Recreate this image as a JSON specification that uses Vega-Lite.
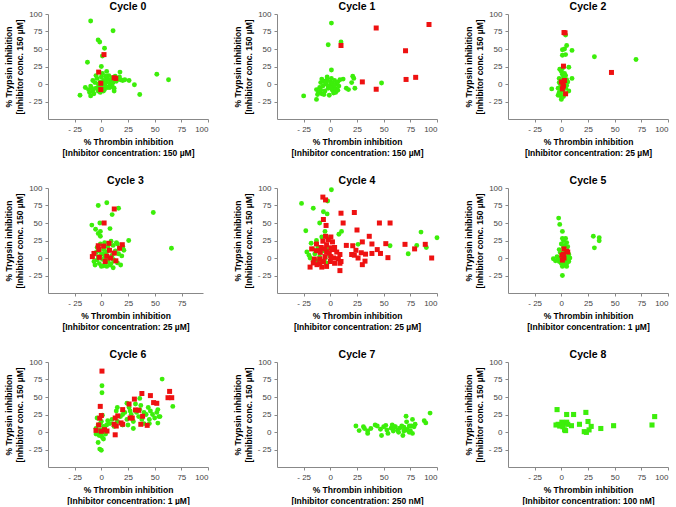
{
"$schema": "https://vega.github.io/schema/vega-lite/v6.json",
"padding": {"left": 4, "top": 1, "right": 0, "bottom": 0},
"background": "white",
"config": {
  "view": {"stroke": null},
  "title": {"font": "Liberation Sans", "fontSize": 10.5, "fontWeight": "bold", "color": "#000", "offset": -2},
  "axis": {"grid": false, "labelFont": "Liberation Sans", "labelFontSize": 8, "labelColor": "#444", "titleFont": "Liberation Sans", "titleFontSize": 8.5, "titleFontWeight": "bold", "titleColor": "#000", "domainColor": "#888", "tickColor": "#888", "tickSize": 3, "labelPadding": 3, "titleLineHeight": 11},
  "point": {"filled": true, "opacity": 1}
},
"spacing": {"row": 18, "column": 24},
"columns": 3,
"datasets": {
"c0": [
{"x":-10,"y":90,"t":"g"},{"x":11,"y":76,"t":"g"},{"x":-3,"y":63,"t":"g"},{"x":-1.5,"y":60,"t":"g"},{"x":3,"y":51,"t":"g"},{"x":-13,"y":31,"t":"g"},{"x":1,"y":40,"t":"g"},{"x":0,"y":25,"t":"g"},{"x":5,"y":18,"t":"g"},{"x":17.5,"y":17,"t":"g"},{"x":52,"y":14,"t":"g"},{"x":63,"y":6,"t":"g"},{"x":31,"y":-1,"t":"g"},{"x":36,"y":-15,"t":"g"},{"x":-20,"y":-16,"t":"g"},{"x":-10,"y":-17,"t":"g"},
{"x":-15,"y":-5,"t":"g"},{"x":-12,"y":-8,"t":"g"},{"x":-10,"y":-3,"t":"g"},{"x":-8,"y":5,"t":"g"},{"x":-8,"y":-10,"t":"g"},{"x":-6,"y":2,"t":"g"},{"x":-5,"y":-6,"t":"g"},{"x":-4,"y":8,"t":"g"},{"x":-3,"y":0,"t":"g"},{"x":-2,"y":-4,"t":"g"},{"x":-1,"y":3,"t":"g"},{"x":0,"y":10,"t":"g"},{"x":0,"y":-2,"t":"g"},{"x":1,"y":-6,"t":"g"},{"x":2,"y":5,"t":"g"},{"x":2,"y":-10,"t":"g"},{"x":3,"y":1,"t":"g"},{"x":4,"y":-3,"t":"g"},{"x":5,"y":8,"t":"g"},{"x":5,"y":3,"t":"g"},{"x":6,"y":-5,"t":"g"},{"x":7,"y":12,"t":"g"},{"x":8,"y":0,"t":"g"},{"x":9,"y":5,"t":"g"},{"x":10,"y":-2,"t":"g"},{"x":10,"y":9,"t":"g"},{"x":11,"y":2,"t":"g"},{"x":12,"y":-6,"t":"g"},{"x":13,"y":11,"t":"g"},{"x":14,"y":4,"t":"g"},{"x":15,"y":7,"t":"g"},{"x":17,"y":10,"t":"g"},{"x":18,"y":6,"t":"g"},{"x":20,"y":5,"t":"g"},{"x":22,"y":6,"t":"g"},{"x":26,"y":5,"t":"g"},{"x":-11,"y":-12,"t":"g"},{"x":-7,"y":-14,"t":"g"},{"x":-3,"y":-10,"t":"g"},{"x":3,"y":-8,"t":"g"},{"x":8,"y":-5,"t":"g"},{"x":-5,"y":12,"t":"g"},{"x":1,"y":15,"t":"g"},{"x":-9,"y":-6,"t":"g"},{"x":4,"y":11,"t":"g"},{"x":12,"y":-10,"t":"g"},{"x":6,"y":7,"t":"g"},{"x":-1,"y":-12,"t":"g"},
{"x":2.5,"y":42,"t":"r"},{"x":-2.5,"y":17,"t":"r"},{"x":-0.5,"y":1,"t":"r"},{"x":-0.5,"y":-8,"t":"r"},{"x":12,"y":9,"t":"r"},{"x":13.5,"y":8,"t":"r"}
],
"c1": [
{"x":1,"y":87,"t":"g"},{"x":-2,"y":56,"t":"g"},{"x":10,"y":60,"t":"g"},{"x":1,"y":20,"t":"g"},{"x":48,"y":1.5,"t":"g"},{"x":-25,"y":-17,"t":"g"},{"x":-13,"y":-22,"t":"g"},{"x":12,"y":7,"t":"g"},{"x":20,"y":2,"t":"g"},{"x":21,"y":11,"t":"g"},{"x":22,"y":8,"t":"g"},{"x":23,"y":-6,"t":"g"},{"x":15,"y":-6,"t":"g"},{"x":17,"y":-8,"t":"g"},
{"x":-13,"y":-8,"t":"g"},{"x":-11,"y":-12,"t":"g"},{"x":-10,"y":-5,"t":"g"},{"x":-9,"y":2,"t":"g"},{"x":-8,"y":-14,"t":"g"},{"x":-7,"y":-3,"t":"g"},{"x":-6,"y":4,"t":"g"},{"x":-5,"y":-10,"t":"g"},{"x":-4,"y":0,"t":"g"},{"x":-3,"y":6,"t":"g"},{"x":-2,"y":-6,"t":"g"},{"x":-1,"y":-16,"t":"g"},{"x":0,"y":3,"t":"g"},{"x":0,"y":-2,"t":"g"},{"x":1,"y":8,"t":"g"},{"x":2,"y":-9,"t":"g"},{"x":2,"y":1,"t":"g"},{"x":3,"y":-4,"t":"g"},{"x":4,"y":5,"t":"g"},{"x":5,"y":-7,"t":"g"},{"x":6,"y":0,"t":"g"},{"x":7,"y":3,"t":"g"},{"x":8,"y":-3,"t":"g"},{"x":9,"y":6,"t":"g"},{"x":-12,"y":-15,"t":"g"},{"x":-6,"y":-15,"t":"g"},{"x":-3,"y":10,"t":"g"},{"x":3,"y":-13,"t":"g"},{"x":-9,"y":-9,"t":"g"},{"x":5,"y":-12,"t":"g"},{"x":-2,"y":-3,"t":"g"},{"x":1,"y":-6,"t":"g"},{"x":-5,"y":3,"t":"g"},{"x":-8,"y":7,"t":"g"},{"x":4,"y":-2,"t":"g"},{"x":7,"y":-9,"t":"g"},
{"x":10,"y":55,"t":"r"},{"x":43,"y":80,"t":"r"},{"x":92.5,"y":85,"t":"r"},{"x":70.5,"y":47.5,"t":"r"},{"x":71,"y":6.5,"t":"r"},{"x":80,"y":9.5,"t":"r"},{"x":30,"y":3,"t":"r"},{"x":43,"y":-7.5,"t":"r"}
],
"c2": [
{"x":4,"y":70,"t":"g"},{"x":5,"y":55,"t":"g"},{"x":3,"y":50,"t":"g"},{"x":1,"y":49,"t":"g"},{"x":10,"y":48,"t":"g"},{"x":1,"y":41,"t":"g"},{"x":4,"y":42,"t":"g"},{"x":31,"y":39,"t":"g"},{"x":70,"y":35,"t":"g"},{"x":7,"y":24,"t":"g"},{"x":-1.5,"y":21,"t":"g"},{"x":10,"y":8,"t":"g"},{"x":-9,"y":-7,"t":"g"},{"x":0,"y":-22,"t":"g"},{"x":-3,"y":-16,"t":"g"},
{"x":0,"y":18,"t":"g"},{"x":1,"y":14,"t":"g"},{"x":2,"y":10,"t":"g"},{"x":-2,"y":8,"t":"g"},{"x":0,"y":5,"t":"g"},{"x":3,"y":2,"t":"g"},{"x":-1,"y":0,"t":"g"},{"x":2,"y":-3,"t":"g"},{"x":4,"y":-6,"t":"g"},{"x":1,"y":-9,"t":"g"},{"x":-2,"y":-12,"t":"g"},{"x":3,"y":-14,"t":"g"},{"x":0,"y":-18,"t":"g"},{"x":5,"y":-2,"t":"g"},{"x":6,"y":3,"t":"g"},{"x":7,"y":-10,"t":"g"},{"x":-3,"y":-6,"t":"g"},{"x":1,"y":22,"t":"g"},{"x":4,"y":12,"t":"g"},{"x":-1,"y":-14,"t":"g"},{"x":2,"y":-18,"t":"g"},{"x":5,"y":6,"t":"g"},{"x":0,"y":-5,"t":"g"},{"x":-2,"y":2,"t":"g"},{"x":3,"y":15,"t":"g"},
{"x":2.5,"y":73.5,"t":"r"},{"x":3.5,"y":73,"t":"r"},{"x":2,"y":25.5,"t":"r"},{"x":0,"y":3,"t":"r"},{"x":3,"y":5,"t":"r"},{"x":1,"y":-7,"t":"r"},{"x":1.5,"y":-1,"t":"r"},{"x":4,"y":-14,"t":"r"},{"x":47,"y":16.5,"t":"r"},{"x":2,"y":-3,"t":"r"}
],
"c3": [
{"x":-3,"y":75,"t":"g"},{"x":5,"y":79,"t":"g"},{"x":16,"y":71,"t":"g"},{"x":10,"y":62,"t":"g"},{"x":48.5,"y":65,"t":"g"},{"x":-9,"y":47,"t":"g"},{"x":-5.5,"y":41,"t":"g"},{"x":-1.5,"y":50,"t":"g"},{"x":-1,"y":38,"t":"g"},{"x":-3,"y":35,"t":"g"},{"x":-1,"y":31,"t":"g"},{"x":8,"y":42,"t":"g"},{"x":25.5,"y":25,"t":"g"},{"x":65.5,"y":14,"t":"g"},{"x":2,"y":-11,"t":"g"},{"x":11,"y":-14,"t":"g"},{"x":18,"y":-10,"t":"g"},{"x":21,"y":11,"t":"g"},
{"x":-7,"y":-5,"t":"g"},{"x":-5,"y":8,"t":"g"},{"x":-4,"y":15,"t":"g"},{"x":-3,"y":2,"t":"g"},{"x":-2,"y":-8,"t":"g"},{"x":-1,"y":20,"t":"g"},{"x":0,"y":5,"t":"g"},{"x":1,"y":-2,"t":"g"},{"x":2,"y":12,"t":"g"},{"x":3,"y":22,"t":"g"},{"x":4,"y":-6,"t":"g"},{"x":5,"y":9,"t":"g"},{"x":6,"y":16,"t":"g"},{"x":7,"y":0,"t":"g"},{"x":8,"y":-10,"t":"g"},{"x":9,"y":24,"t":"g"},{"x":10,"y":4,"t":"g"},{"x":11,"y":18,"t":"g"},{"x":12,"y":-4,"t":"g"},{"x":13,"y":10,"t":"g"},{"x":14,"y":22,"t":"g"},{"x":15,"y":-7,"t":"g"},{"x":16,"y":6,"t":"g"},{"x":17,"y":14,"t":"g"},{"x":19,"y":3,"t":"g"},{"x":-6,"y":-10,"t":"g"},{"x":0,"y":-12,"t":"g"},{"x":5,"y":-12,"t":"g"},{"x":9,"y":-8,"t":"g"},{"x":3,"y":0,"t":"g"},{"x":-2,"y":10,"t":"g"},{"x":7,"y":20,"t":"g"},{"x":11,"y":-2,"t":"g"},{"x":15,"y":20,"t":"g"},{"x":20,"y":16,"t":"g"},{"x":-4,"y":-3,"t":"g"},{"x":2,"y":6,"t":"g"},{"x":6,"y":-4,"t":"g"},
{"x":12,"y":70,"t":"r"},{"x":2.5,"y":50,"t":"r"},{"x":19.5,"y":19,"t":"r"},{"x":17,"y":14,"t":"r"},{"x":12,"y":7,"t":"r"},{"x":7,"y":21,"t":"r"},{"x":-3,"y":17.5,"t":"r"},{"x":2,"y":17,"t":"r"},{"x":-2.5,"y":12,"t":"r"},{"x":7.5,"y":11,"t":"r"},{"x":-7,"y":6.5,"t":"r"},{"x":-8.5,"y":2,"t":"r"},{"x":-2,"y":1,"t":"r"},{"x":5,"y":2.5,"t":"r"},{"x":8.5,"y":0,"t":"r"},{"x":3.5,"y":-5,"t":"r"},{"x":13.5,"y":-4,"t":"r"}
],
"c4": [
{"x":1,"y":97.6,"t":"g"},{"x":-27,"y":78,"t":"g"},{"x":-2.5,"y":81.5,"t":"g"},{"x":-16,"y":71,"t":"g"},{"x":-6.5,"y":66,"t":"g"},{"x":-3,"y":63,"t":"g"},{"x":-10,"y":50,"t":"g"},{"x":-5,"y":38,"t":"g"},{"x":8,"y":34,"t":"g"},{"x":10.5,"y":38,"t":"g"},{"x":-23,"y":39,"t":"g"},{"x":85,"y":37,"t":"g"},{"x":100,"y":29,"t":"g"},{"x":81,"y":18,"t":"g"},{"x":90,"y":15,"t":"g"},{"x":73,"y":6,"t":"g"},{"x":56,"y":17.5,"t":"g"},{"x":26,"y":19.5,"t":"g"},{"x":-22,"y":8.5,"t":"g"},{"x":-20,"y":4,"t":"g"},
{"x":-18,"y":21,"t":"g"},{"x":-13,"y":25,"t":"g"},{"x":-8,"y":30,"t":"g"},{"x":-3.5,"y":30,"t":"g"},{"x":-16.5,"y":13,"t":"g"},{"x":-11.5,"y":15,"t":"g"},{"x":-7,"y":10,"t":"g"},{"x":-2,"y":12.5,"t":"g"},{"x":-14.5,"y":6,"t":"g"},{"x":-10,"y":1.5,"t":"g"},{"x":-5,"y":-1,"t":"g"},{"x":-0.5,"y":3,"t":"g"},{"x":-19,"y":0,"t":"g"},{"x":-13,"y":-4,"t":"g"},{"x":-7,"y":-5,"t":"g"},{"x":-3.5,"y":-7.5,"t":"g"},{"x":-16,"y":-5,"t":"g"},
{"x":-7,"y":87,"t":"r"},{"x":-4.5,"y":83,"t":"r"},{"x":10,"y":64,"t":"r"},{"x":22.5,"y":65,"t":"r"},{"x":12,"y":50,"t":"r"},{"x":46,"y":50,"t":"r"},{"x":56,"y":50,"t":"r"},{"x":25,"y":40,"t":"r"},{"x":36.5,"y":31,"t":"r"},{"x":-6.5,"y":55,"t":"r"},{"x":-4,"y":46.5,"t":"r"},{"x":0.5,"y":30,"t":"r"},{"x":15,"y":18,"t":"r"},{"x":21,"y":17.5,"t":"r"},{"x":30,"y":23,"t":"r"},{"x":39,"y":20,"t":"r"},{"x":52,"y":20.5,"t":"r"},{"x":70,"y":19.5,"t":"r"},{"x":79,"y":13,"t":"r"},{"x":89,"y":19.5,"t":"r"},{"x":95,"y":0,"t":"r"},{"x":54,"y":0.5,"t":"r"},{"x":47,"y":6.5,"t":"r"},{"x":44,"y":12,"t":"r"},{"x":39,"y":6.5,"t":"r"},{"x":33,"y":5.5,"t":"r"},{"x":32.5,"y":-4.5,"t":"r"},{"x":30,"y":-9.5,"t":"r"},{"x":29,"y":7.5,"t":"r"},{"x":24,"y":11,"t":"r"},{"x":22.5,"y":4,"t":"r"},{"x":26,"y":0,"t":"r"},{"x":20,"y":5,"t":"r"},{"x":9,"y":-18,"t":"r"},{"x":10,"y":-5,"t":"r"},{"x":3,"y":0,"t":"r"},{"x":6,"y":8.5,"t":"r"},{"x":9,"y":5,"t":"r"},{"x":0.5,"y":14.5,"t":"r"},{"x":-3.5,"y":19,"t":"r"},{"x":-7,"y":24,"t":"r"},{"x":-13,"y":20,"t":"r"},{"x":-17.5,"y":13,"t":"r"},{"x":-13,"y":10.5,"t":"r"},{"x":-8.5,"y":15,"t":"r"},{"x":2,"y":23,"t":"r"},{"x":4,"y":15,"t":"r"},{"x":7.5,"y":-1,"t":"r"},{"x":9,"y":-7.5,"t":"r"},{"x":4,"y":-7.5,"t":"r"},{"x":0,"y":-5,"t":"r"},{"x":-3.5,"y":-12,"t":"r"},{"x":-8,"y":-13,"t":"r"},{"x":-12.5,"y":-9.5,"t":"r"},{"x":-16,"y":-7,"t":"r"},{"x":-19,"y":-13,"t":"r"},{"x":-15,"y":-1.5,"t":"r"},{"x":-10,"y":-1.5,"t":"r"},{"x":-5,"y":2,"t":"r"},{"x":-3.5,"y":9,"t":"r"},{"x":-6.5,"y":-5,"t":"r"},{"x":-10,"y":-8,"t":"r"},{"x":0.5,"y":2,"t":"r"},{"x":-1,"y":7,"t":"r"},{"x":2,"y":12,"t":"r"},{"x":-9.5,"y":8,"t":"r"},{"x":-5,"y":13,"t":"r"},{"x":-2,"y":26,"t":"r"},{"x":-4.5,"y":31,"t":"r"}
],
"c5": [
{"x":-2.5,"y":57,"t":"g"},{"x":-1.5,"y":48,"t":"g"},{"x":1,"y":38,"t":"g"},{"x":30,"y":31,"t":"g"},{"x":35.5,"y":29,"t":"g"},{"x":35.5,"y":24.5,"t":"g"},{"x":31,"y":14.5,"t":"g"},{"x":1,"y":-25,"t":"g"},{"x":-7.5,"y":-1,"t":"g"},{"x":-5.5,"y":-4,"t":"g"},
{"x":-2,"y":12,"t":"g"},{"x":0,"y":20,"t":"g"},{"x":2,"y":25,"t":"g"},{"x":4,"y":28,"t":"g"},{"x":5,"y":22,"t":"g"},{"x":6,"y":16,"t":"g"},{"x":3,"y":10,"t":"g"},{"x":1,"y":5,"t":"g"},{"x":-1,"y":0,"t":"g"},{"x":2,"y":-3,"t":"g"},{"x":4,"y":-6,"t":"g"},{"x":6,"y":-2,"t":"g"},{"x":7,"y":5,"t":"g"},{"x":0,"y":-8,"t":"g"},{"x":-2,"y":-5,"t":"g"},{"x":3,"y":-10,"t":"g"},{"x":5,"y":-12,"t":"g"},{"x":1,"y":-12,"t":"g"},{"x":-3,"y":-2,"t":"g"},{"x":2,"y":15,"t":"g"},{"x":6,"y":8,"t":"g"},{"x":-1,"y":8,"t":"g"},{"x":4,"y":2,"t":"g"},{"x":7,"y":-5,"t":"g"},{"x":1,"y":28,"t":"g"},{"x":3,"y":18,"t":"g"},{"x":5,"y":-8,"t":"g"},{"x":0,"y":-3,"t":"g"},{"x":-4,"y":2,"t":"g"},{"x":8,"y":0,"t":"g"},
{"x":2.5,"y":13,"t":"r"},{"x":5,"y":9.5,"t":"r"},{"x":6,"y":8.5,"t":"r"},{"x":0.5,"y":4,"t":"r"},{"x":2.5,"y":0,"t":"r"},{"x":1,"y":-3,"t":"r"},{"x":2,"y":5,"t":"r"}
],
"c6": [
{"x":57,"y":75.6,"t":"g"},{"x":0.6,"y":66,"t":"g"},{"x":0.6,"y":56,"t":"g"},{"x":67,"y":36.6,"t":"g"},{"x":-1.5,"y":-24.4,"t":"g"},{"x":0,"y":-26,"t":"g"},{"x":-3,"y":-15,"t":"g"},{"x":15,"y":35,"t":"g"},{"x":24,"y":41,"t":"g"},{"x":36,"y":48,"t":"g"},{"x":54,"y":22,"t":"g"},{"x":53,"y":12.7,"t":"g"},
{"x":-5,"y":5,"t":"g"},{"x":-4,"y":-2,"t":"g"},{"x":-3,"y":10,"t":"g"},{"x":-2,"y":-5,"t":"g"},{"x":-1,"y":3,"t":"g"},{"x":0,"y":15,"t":"g"},{"x":1,"y":-8,"t":"g"},{"x":2,"y":8,"t":"g"},{"x":3,"y":0,"t":"g"},{"x":4,"y":-3,"t":"g"},{"x":-4,"y":20,"t":"g"},{"x":1,"y":24,"t":"g"},{"x":-2,"y":0,"t":"g"},{"x":0,"y":-5,"t":"g"},{"x":3,"y":5,"t":"g"},{"x":-5,"y":-3,"t":"g"},{"x":5,"y":10,"t":"g"},{"x":2,"y":-10,"t":"g"},{"x":-1,"y":12,"t":"g"},
{"x":8,"y":12,"t":"g"},{"x":10,"y":18,"t":"g"},{"x":12,"y":8,"t":"g"},{"x":15,"y":15,"t":"g"},{"x":18,"y":22,"t":"g"},{"x":20,"y":10,"t":"g"},{"x":22,"y":28,"t":"g"},{"x":24,"y":18,"t":"g"},{"x":26,"y":35,"t":"g"},{"x":28,"y":25,"t":"g"},{"x":30,"y":15,"t":"g"},{"x":32,"y":40,"t":"g"},{"x":33,"y":28,"t":"g"},{"x":35,"y":22,"t":"g"},{"x":36,"y":32,"t":"g"},{"x":38,"y":18,"t":"g"},{"x":40,"y":28,"t":"g"},{"x":42,"y":25,"t":"g"},{"x":44,"y":35,"t":"g"},{"x":45,"y":18,"t":"g"},{"x":46,"y":30,"t":"g"},{"x":48,"y":25,"t":"g"},{"x":50,"y":20,"t":"g"},{"x":52,"y":28,"t":"g"},{"x":55,"y":22,"t":"g"},{"x":40,"y":12,"t":"g"},{"x":30,"y":5,"t":"g"},{"x":25,"y":10,"t":"g"},{"x":45,"y":12,"t":"g"},{"x":53,"y":32,"t":"g"},{"x":37,"y":38,"t":"g"},{"x":20,"y":25,"t":"g"},{"x":14,"y":30,"t":"g"},{"x":6,"y":16,"t":"g"},{"x":27,"y":30,"t":"g"},
{"x":0.6,"y":87,"t":"r"},{"x":-1,"y":36.6,"t":"r"},{"x":0,"y":23.5,"t":"r"},{"x":-1.5,"y":19.7,"t":"r"},{"x":-2.5,"y":10,"t":"r"},{"x":-5,"y":2.3,"t":"r"},{"x":0,"y":1,"t":"r"},{"x":3,"y":3.3,"t":"r"},{"x":5.3,"y":1.4,"t":"r"},{"x":13,"y":20,"t":"r"},{"x":15.4,"y":23,"t":"r"},{"x":12,"y":11,"t":"r"},{"x":14,"y":8.5,"t":"r"},{"x":13,"y":-4,"t":"r"},{"x":18.5,"y":13,"t":"r"},{"x":20,"y":11,"t":"r"},{"x":20,"y":32,"t":"r"},{"x":26,"y":40,"t":"r"},{"x":31,"y":47,"t":"r"},{"x":38,"y":55,"t":"r"},{"x":46,"y":52,"t":"r"},{"x":49,"y":42,"t":"r"},{"x":52,"y":41,"t":"r"},{"x":64,"y":58,"t":"r"},{"x":62.5,"y":49,"t":"r"},{"x":66,"y":49,"t":"r"},{"x":32,"y":31.5,"t":"r"},{"x":27,"y":20,"t":"r"},{"x":29,"y":20,"t":"r"},{"x":35,"y":31,"t":"r"},{"x":38.7,"y":22.5,"t":"r"},{"x":37,"y":11,"t":"r"},{"x":43,"y":9.5,"t":"r"}
],
"c7": [
{"x":24,"y":8.5,"t":"g"},{"x":27,"y":2,"t":"g"},{"x":31,"y":7.5,"t":"g"},{"x":32,"y":5,"t":"g"},{"x":35,"y":1.5,"t":"g"},{"x":35,"y":-2,"t":"g"},{"x":38,"y":5,"t":"g"},{"x":42,"y":10,"t":"g"},{"x":47,"y":4,"t":"g"},{"x":48,"y":-5,"t":"g"},{"x":50,"y":7.5,"t":"g"},{"x":53,"y":3,"t":"g"},{"x":54,"y":-2,"t":"g"},{"x":57,"y":5.5,"t":"g"},{"x":58,"y":10,"t":"g"},{"x":59,"y":1.5,"t":"g"},{"x":61,"y":7.5,"t":"g"},{"x":63,"y":2.5,"t":"g"},{"x":65,"y":5.5,"t":"g"},{"x":67,"y":8.5,"t":"g"},{"x":68,"y":-5,"t":"g"},{"x":69,"y":7,"t":"g"},{"x":71,"y":22.5,"t":"g"},{"x":71.5,"y":14.5,"t":"g"},{"x":72,"y":3.5,"t":"g"},{"x":74,"y":8.5,"t":"g"},{"x":75,"y":2,"t":"g"},{"x":76,"y":8.5,"t":"g"},{"x":77,"y":18,"t":"g"},{"x":77,"y":-2,"t":"g"},{"x":78.5,"y":7.5,"t":"g"},{"x":79.5,"y":11,"t":"g"},{"x":88,"y":16,"t":"g"},{"x":89.5,"y":13,"t":"g"},{"x":93.5,"y":27,"t":"g"},{"x":52,"y":9.5,"t":"g"},{"x":60,"y":7.5,"t":"g"},{"x":71.5,"y":3,"t":"g"},{"x":74,"y":-0.5,"t":"g"},{"x":44,"y":8.5,"t":"g"},{"x":64,"y":-0.5,"t":"g"},{"x":69,"y":1.5,"t":"g"}
],
"c8": [
{"x":-4,"y":32,"t":"s"},{"x":5,"y":25,"t":"s"},{"x":11.5,"y":25,"t":"s"},{"x":23,"y":28,"t":"s"},{"x":25,"y":15,"t":"s"},{"x":17,"y":11,"t":"s"},{"x":9.5,"y":9,"t":"s"},{"x":28,"y":8,"t":"s"},{"x":37,"y":5,"t":"s"},{"x":49,"y":9,"t":"s"},{"x":85,"y":10,"t":"s"},{"x":87.5,"y":22,"t":"s"},{"x":-5,"y":10,"t":"s"},{"x":-3,"y":11,"t":"s"},{"x":-1.5,"y":8.5,"t":"s"},{"x":0.5,"y":14,"t":"s"},{"x":2.5,"y":13,"t":"s"},{"x":5,"y":14,"t":"s"},{"x":1.5,"y":7.5,"t":"s"},{"x":3,"y":3,"t":"s"},{"x":4,"y":2,"t":"s"},{"x":21.5,"y":0.5,"t":"s"},{"x":23.5,"y":-0.5,"t":"s"},{"x":26,"y":3,"t":"s"},{"x":6,"y":11,"t":"s"}
]
},
"concat": [
{"title": "Cycle 0", "width": 160, "height": 105, "data": {"name": "c0"}, "mark": {"type": "point", "filled": true, "opacity": 1},
 "encoding": {
  "x": {"field": "x", "type": "quantitative", "scale": {"domain": [-50, 100], "nice": false}, "axis": {"values": [-25,0,25,50,75,100], "labelExpr": "datum.value < 0 ? '- ' + (-datum.value) : datum.label", "title": ["% Thrombin inhibition", "[Inhibitor concentration: 150 µM]"]}},
  "y": {"field": "y", "type": "quantitative", "scale": {"domain": [-50, 100], "nice": false}, "axis": {"values": [-25,0,25,50,75,100], "labelExpr": "datum.value < 0 ? '- ' + (-datum.value) : datum.label", "title": ["% Trypsin inhibition", "[Inhibitor conc. 150 µM]"]}},
  "color": {"field": "t", "type": "nominal", "scale": {"domain": ["g","r","s"], "range": ["#3cee0a","#ee1111","#3cee0a"]}, "legend": null},
  "shape": {"field": "t", "type": "nominal", "scale": {"domain": ["g","r","s"], "range": ["circle","square","square"]}, "legend": null},
  "size": {"field": "t", "type": "nominal", "scale": {"domain": ["g","r","s"], "range": [24,26,26]}, "legend": null}
 }},
{"title": "Cycle 1", "width": 160, "height": 105, "data": {"name": "c1"}, "mark": {"type": "point", "filled": true, "opacity": 1},
 "encoding": {
  "x": {"field": "x", "type": "quantitative", "scale": {"domain": [-50, 100], "nice": false}, "axis": {"values": [-25,0,25,50,75,100], "labelExpr": "datum.value < 0 ? '- ' + (-datum.value) : datum.label", "title": ["% Thrombin inhibition", "[Inhibitor concentration: 150 µM]"]}},
  "y": {"field": "y", "type": "quantitative", "scale": {"domain": [-50, 100], "nice": false}, "axis": {"values": [-25,0,25,50,75,100], "labelExpr": "datum.value < 0 ? '- ' + (-datum.value) : datum.label", "title": ["% Trypsin inhibition", "[Inhibitor conc. 150 µM]"]}},
  "color": {"field": "t", "type": "nominal", "scale": {"domain": ["g","r","s"], "range": ["#3cee0a","#ee1111","#3cee0a"]}, "legend": null},
  "shape": {"field": "t", "type": "nominal", "scale": {"domain": ["g","r","s"], "range": ["circle","square","square"]}, "legend": null},
  "size": {"field": "t", "type": "nominal", "scale": {"domain": ["g","r","s"], "range": [24,26,26]}, "legend": null}
 }},
{"title": "Cycle 2", "width": 160, "height": 105, "data": {"name": "c2"}, "mark": {"type": "point", "filled": true, "opacity": 1},
 "encoding": {
  "x": {"field": "x", "type": "quantitative", "scale": {"domain": [-50, 100], "nice": false}, "axis": {"values": [-25,0,25,50,75,100], "labelExpr": "datum.value < 0 ? '- ' + (-datum.value) : datum.label", "title": ["% Thrombin inhibition", "[Inhibitor concentration: 25 µM]"]}},
  "y": {"field": "y", "type": "quantitative", "scale": {"domain": [-50, 100], "nice": false}, "axis": {"values": [-25,0,25,50,75,100], "labelExpr": "datum.value < 0 ? '- ' + (-datum.value) : datum.label", "title": ["% Trypsin inhibition", "[Inhibitor conc. 150 µM]"]}},
  "color": {"field": "t", "type": "nominal", "scale": {"domain": ["g","r","s"], "range": ["#3cee0a","#ee1111","#3cee0a"]}, "legend": null},
  "shape": {"field": "t", "type": "nominal", "scale": {"domain": ["g","r","s"], "range": ["circle","square","square"]}, "legend": null},
  "size": {"field": "t", "type": "nominal", "scale": {"domain": ["g","r","s"], "range": [24,26,26]}, "legend": null}
 }},
{"title": "Cycle 3", "width": 155, "height": 105, "data": {"name": "c3"}, "mark": {"type": "point", "filled": true, "opacity": 1},
 "encoding": {
  "x": {"field": "x", "type": "quantitative", "scale": {"domain": [-50, 95], "nice": false}, "axis": {"values": [-25,0,25,50,75], "labelExpr": "datum.value < 0 ? '- ' + (-datum.value) : datum.label", "title": ["% Thrombin inhibition", "[Inhibitor concentration: 25 µM]"]}},
  "y": {"field": "y", "type": "quantitative", "scale": {"domain": [-50, 100], "nice": false}, "axis": {"values": [-25,0,25,50,75,100], "labelExpr": "datum.value < 0 ? '- ' + (-datum.value) : datum.label", "title": ["% Trypsin inhibition", "[Inhibitor conc. 150 µM]"]}},
  "color": {"field": "t", "type": "nominal", "scale": {"domain": ["g","r","s"], "range": ["#3cee0a","#ee1111","#3cee0a"]}, "legend": null},
  "shape": {"field": "t", "type": "nominal", "scale": {"domain": ["g","r","s"], "range": ["circle","square","square"]}, "legend": null},
  "size": {"field": "t", "type": "nominal", "scale": {"domain": ["g","r","s"], "range": [24,26,26]}, "legend": null}
 }},
{"title": "Cycle 4", "width": 160, "height": 105, "data": {"name": "c4"}, "mark": {"type": "point", "filled": true, "opacity": 1},
 "encoding": {
  "x": {"field": "x", "type": "quantitative", "scale": {"domain": [-50, 100], "nice": false}, "axis": {"values": [-25,0,25,50,75,100], "labelExpr": "datum.value < 0 ? '- ' + (-datum.value) : datum.label", "title": ["% Thrombin inhibition", "[Inhibitor concentration: 25 µM]"]}},
  "y": {"field": "y", "type": "quantitative", "scale": {"domain": [-50, 100], "nice": false}, "axis": {"values": [-25,0,25,50,75,100], "labelExpr": "datum.value < 0 ? '- ' + (-datum.value) : datum.label", "title": ["% Trypsin inhibition", "[Inhibitor conc. 150 µM]"]}},
  "color": {"field": "t", "type": "nominal", "scale": {"domain": ["g","r","s"], "range": ["#3cee0a","#ee1111","#3cee0a"]}, "legend": null},
  "shape": {"field": "t", "type": "nominal", "scale": {"domain": ["g","r","s"], "range": ["circle","square","square"]}, "legend": null},
  "size": {"field": "t", "type": "nominal", "scale": {"domain": ["g","r","s"], "range": [24,26,26]}, "legend": null}
 }},
{"title": "Cycle 5", "width": 160, "height": 105, "data": {"name": "c5"}, "mark": {"type": "point", "filled": true, "opacity": 1},
 "encoding": {
  "x": {"field": "x", "type": "quantitative", "scale": {"domain": [-50, 100], "nice": false}, "axis": {"values": [-25,0,25,50,75,100], "labelExpr": "datum.value < 0 ? '- ' + (-datum.value) : datum.label", "title": ["% Thrombin inhibition", "[Inhibitor concentration: 1 µM]"]}},
  "y": {"field": "y", "type": "quantitative", "scale": {"domain": [-50, 100], "nice": false}, "axis": {"values": [-25,0,25,50,75,100], "labelExpr": "datum.value < 0 ? '- ' + (-datum.value) : datum.label", "title": ["% Trypsin inhibition", "[Inhibitor conc. 150 µM]"]}},
  "color": {"field": "t", "type": "nominal", "scale": {"domain": ["g","r","s"], "range": ["#3cee0a","#ee1111","#3cee0a"]}, "legend": null},
  "shape": {"field": "t", "type": "nominal", "scale": {"domain": ["g","r","s"], "range": ["circle","square","square"]}, "legend": null},
  "size": {"field": "t", "type": "nominal", "scale": {"domain": ["g","r","s"], "range": [24,26,26]}, "legend": null}
 }},
{"title": "Cycle 6", "width": 160, "height": 105, "data": {"name": "c6"}, "mark": {"type": "point", "filled": true, "opacity": 1},
 "encoding": {
  "x": {"field": "x", "type": "quantitative", "scale": {"domain": [-50, 100], "nice": false}, "axis": {"values": [-25,0,25,50,75,100], "labelExpr": "datum.value < 0 ? '- ' + (-datum.value) : datum.label", "title": ["% Thrombin inhibition", "[Inhibitor concentration: 1 µM]"]}},
  "y": {"field": "y", "type": "quantitative", "scale": {"domain": [-50, 100], "nice": false}, "axis": {"values": [-25,0,25,50,75,100], "labelExpr": "datum.value < 0 ? '- ' + (-datum.value) : datum.label", "title": ["% Trypsin inhibition", "[Inhibitor conc. 150 µM]"]}},
  "color": {"field": "t", "type": "nominal", "scale": {"domain": ["g","r","s"], "range": ["#3cee0a","#ee1111","#3cee0a"]}, "legend": null},
  "shape": {"field": "t", "type": "nominal", "scale": {"domain": ["g","r","s"], "range": ["circle","square","square"]}, "legend": null},
  "size": {"field": "t", "type": "nominal", "scale": {"domain": ["g","r","s"], "range": [24,26,26]}, "legend": null}
 }},
{"title": "Cycle 7", "width": 160, "height": 105, "data": {"name": "c7"}, "mark": {"type": "point", "filled": true, "opacity": 1},
 "encoding": {
  "x": {"field": "x", "type": "quantitative", "scale": {"domain": [-50, 100], "nice": false}, "axis": {"values": [-25,0,25,50,75,100], "labelExpr": "datum.value < 0 ? '- ' + (-datum.value) : datum.label", "title": ["% Thrombin inhibition", "[Inhibitor concentration: 250 nM]"]}},
  "y": {"field": "y", "type": "quantitative", "scale": {"domain": [-50, 100], "nice": false}, "axis": {"values": [-25,0,25,50,75,100], "labelExpr": "datum.value < 0 ? '- ' + (-datum.value) : datum.label", "title": ["% Trypsin inhibition", "[Inhibitor conc. 150 µM]"]}},
  "color": {"field": "t", "type": "nominal", "scale": {"domain": ["g","r","s"], "range": ["#3cee0a","#ee1111","#3cee0a"]}, "legend": null},
  "shape": {"field": "t", "type": "nominal", "scale": {"domain": ["g","r","s"], "range": ["circle","square","square"]}, "legend": null},
  "size": {"field": "t", "type": "nominal", "scale": {"domain": ["g","r","s"], "range": [24,26,26]}, "legend": null}
 }},
{"title": "Cycle 8", "width": 160, "height": 105, "data": {"name": "c8"}, "mark": {"type": "point", "filled": true, "opacity": 1},
 "encoding": {
  "x": {"field": "x", "type": "quantitative", "scale": {"domain": [-50, 100], "nice": false}, "axis": {"values": [-25,0,25,50,75,100], "labelExpr": "datum.value < 0 ? '- ' + (-datum.value) : datum.label", "title": ["% Thrombin inhibition", "[Inhibitor concentration: 100 nM]"]}},
  "y": {"field": "y", "type": "quantitative", "scale": {"domain": [-50, 100], "nice": false}, "axis": {"values": [-25,0,25,50,75,100], "labelExpr": "datum.value < 0 ? '- ' + (-datum.value) : datum.label", "title": ["% Trypsin inhibition", "[Inhibitor conc. 150 µM]"]}},
  "color": {"field": "t", "type": "nominal", "scale": {"domain": ["g","r","s"], "range": ["#3cee0a","#ee1111","#3cee0a"]}, "legend": null},
  "shape": {"field": "t", "type": "nominal", "scale": {"domain": ["g","r","s"], "range": ["circle","square","square"]}, "legend": null},
  "size": {"field": "t", "type": "nominal", "scale": {"domain": ["g","r","s"], "range": [24,26,26]}, "legend": null}
 }}
]
}
